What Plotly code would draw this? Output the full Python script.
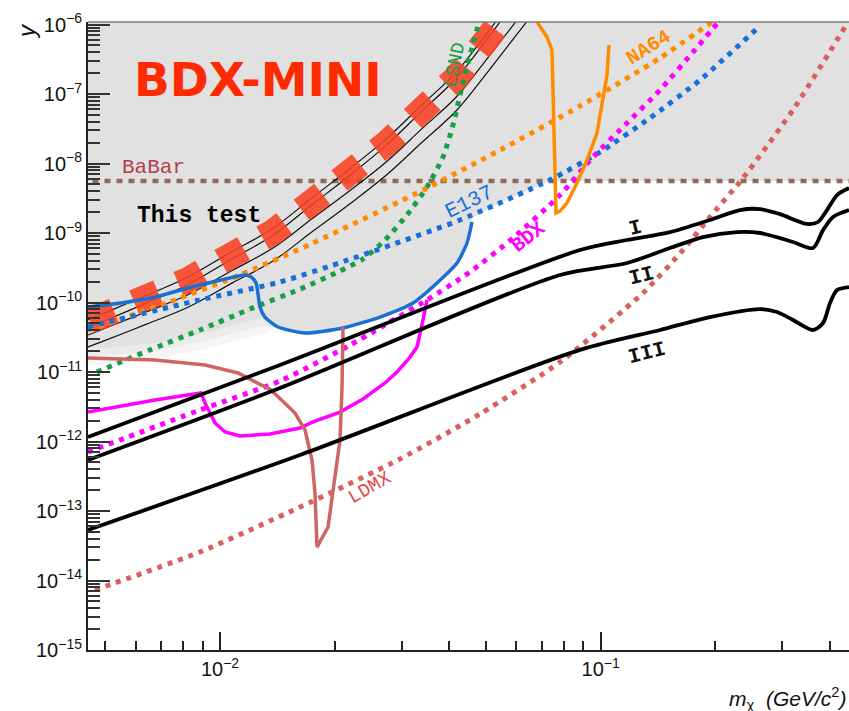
import math
import plotly.graph_objects as go

# ---------------- data (mass in GeV/c^2, y dimensionless) ----------------
# shaded excluded region
excl_m = [0.004, 0.004, 0.005461, 0.006958, 0.008857, 0.010624, 0.012892, 0.014205, 0.016725,
          0.021043, 0.026322, 0.032137, 0.037154, 0.041931, 0.044549, 0.04591, 0.057783,
          0.073576, 0.5, 0.5]
excl_y = [2e-6, 2.08e-11, 2.29e-11, 2.70e-11, 3.52e-11, 4.59e-11, 5.98e-11, 4.44e-11, 3.64e-11,
          4.30e-11, 6.18e-11, 9.84e-11, 1.91e-10, 3.70e-10, 7.18e-10, 1.64e-9, 3.19e-9,
          5.60e-9, 5.60e-9, 2e-6]

# BaBar limit
babar_m = [0.004, 0.5]
babar_y = [5.6e-9, 5.6e-9]

# "This test" curves
test_m = [0.0045, 0.00484, 0.00639, 0.008236, 0.010752, 0.01378, 0.017444, 0.021955, 0.027462,
          0.03393, 0.04168, 0.050279, 0.0544, 0.061376, 0.071418]
test_y1 = [5.60e-11, 6.64e-11, 1.26e-10, 2.33e-10, 5.40e-10, 1.17e-9, 3.21e-9, 8.47e-9, 2.32e-8,
           7.00e-8, 2.05e-7, 7.52e-7, 1.32e-6, 3.15e-6, 1.12e-5]
test_y2 = [4.30e-11, 5.11e-11, 9.77e-11, 1.82e-10, 4.24e-10, 9.27e-10, 2.55e-9, 6.79e-9, 1.87e-8,
           5.68e-8, 1.67e-7, 6.14e-7, 1.09e-6, 2.59e-6, 8.47e-6]
test_y3 = [3.40e-11, 3.99e-11, 7.29e-11, 1.29e-10, 2.88e-10, 6.07e-10, 1.60e-9, 4.09e-9, 1.08e-8,
           3.17e-8, 8.97e-8, 3.21e-7, 5.60e-7, 1.31e-6, 3.83e-6]
test_y4 = [2.29e-11, 2.67e-11, 4.85e-11, 8.55e-11, 1.90e-10, 3.95e-10, 1.04e-9, 2.64e-9, 6.95e-9,
           2.02e-8, 5.69e-8, 2.02e-7, 3.52e-7, 8.20e-7, 2.40e-6]

# BDX-MINI reach
bdxmini_m = [0.004554, 0.00484, 0.00639, 0.008236, 0.010752, 0.01378, 0.017444, 0.021955,
             0.027462, 0.03393, 0.04168, 0.050279, 0.061376]
bdxmini_y = [5.42e-11, 6.18e-11, 1.16e-10, 2.11e-10, 4.82e-10, 1.03e-9, 2.79e-9, 7.29e-9,
             1.97e-8, 5.89e-8, 1.70e-7, 6.18e-7, 2.57e-6]

# LSND
lsnd_m = [0.004751, 0.006547, 0.008857, 0.01199, 0.016223, 0.020664, 0.023747, 0.027127,
          0.030985, 0.03497, 0.038528, 0.040926, 0.042703, 0.044282, 0.04591, 0.047902]
lsnd_y = [1.00e-11, 2.08e-11, 4.02e-11, 8.05e-11, 1.56e-10, 2.84e-10, 4.23e-10, 7.93e-10,
          1.82e-9, 4.59e-9, 1.24e-8, 3.58e-8, 9.68e-8, 2.21e-7, 4.59e-7, 1.09e-6]

# NA64 projection (dotted) and NA64 limit (solid)
na64_m = [0.0045, 0.007389, 0.011287, 0.017549, 0.03497, 0.0544, 0.088232, 0.14315, 0.19604]
na64_y = [4.02e-11, 1.02e-10, 2.49e-10, 7.18e-10, 4.43e-9, 1.56e-8, 6.71e-8, 3.30e-7, 1.09e-6]
na64_lim_m = [0.06802, 0.07226, 0.07448, 0.07493, 0.07586, 0.07632, 0.07818, 0.08157, 0.08665,
              0.09204, 0.09779, 0.10139, 0.10387, 0.10513]
na64_lim_y = [1.09e-6, 6.61e-7, 4.30e-7, 8.20e-8, 8.91e-9, 1.94e-9, 2.07e-9, 2.70e-9, 5.24e-9,
              1.12e-8, 2.75e-8, 8.20e-8, 1.87e-7, 5.07e-7]

# E137 (dotted) and E137 limit (solid)
e137_m = [0.0045, 0.008857, 0.014376, 0.021689, 0.042703, 0.073576, 0.09959, 0.13475, 0.1823,
          0.26213]
e137_y = [4.44e-11, 1.09e-10, 1.97e-10, 4.09e-10, 1.54e-9, 5.79e-9, 1.46e-8, 4.52e-8, 1.59e-7,
          9.51e-7]
e137_lim_m = [0.0045, 0.005495, 0.006751, 0.008236, 0.01006, 0.01163, 0.012067, 0.012437,
              0.012738, 0.013124, 0.014205, 0.016725, 0.021043, 0.026322, 0.032137, 0.037154,
              0.041931, 0.044549, 0.04591]
e137_lim_y = [8.61e-11, 9.84e-11, 1.20e-10, 1.62e-10, 2.11e-10, 2.49e-10, 2.33e-10, 1.91e-10,
              8.61e-11, 6.18e-11, 4.44e-11, 3.64e-11, 4.30e-11, 6.18e-11, 9.84e-11, 1.91e-10,
              3.70e-10, 7.18e-10, 1.44e-9]

# BDX (dotted) and magenta solid bound
bdx_m = [0.0045, 0.008857, 0.014376, 0.021955, 0.03497, 0.045365, 0.058831, 0.07818, 0.095456,
         0.11726, 0.14315, 0.17476, 0.20389]
bdx_y = [7.06e-13, 2.84e-12, 7.43e-12, 2.44e-11, 1.09e-10, 2.75e-10, 8.47e-10, 3.52e-9,
         1.24e-8, 3.83e-8, 1.14e-7, 4.02e-7, 1.09e-6]
magenta_m = [0.0045, 0.006751, 0.008915, 0.009134, 0.009703, 0.010306, 0.011287, 0.013527,
             0.016223, 0.017549, 0.020664, 0.023747, 0.027127, 0.029172, 0.031557, 0.032924,
             0.034134, 0.03497]
magenta_y = [2.65e-12, 3.95e-12, 4.99e-12, 3.58e-12, 1.85e-12, 1.37e-12, 1.20e-12, 1.28e-12,
             1.56e-12, 1.91e-12, 2.65e-12, 4.09e-12, 6.95e-12, 1.00e-11, 1.64e-11, 2.29e-11,
             5.60e-11, 1.09e-10]

# red solid bound
red_m = [0.0045, 0.006751, 0.009134, 0.011152, 0.013614, 0.01574, 0.016725, 0.017444, 0.017762,
         0.01798, 0.019219, 0.019808, 0.020664, 0.020918, 0.021043]
red_y = [1.59e-11, 1.49e-11, 1.26e-11, 9.68e-12, 5.51e-12, 2.57e-12, 1.46e-12, 5.42e-13,
         1.82e-13, 3.03e-14, 5.89e-14, 1.82e-13, 1.05e-12, 6.08e-12, 4.44e-11]

# LDMX projection
ldmx_m = [0.004694, 0.008857, 0.016223, 0.029707, 0.048191, 0.07818, 0.12916, 0.16449, 0.19366,
          0.23647, 0.31992, 0.44361]
ldmx_y = [7.30e-15, 2.57e-14, 1.14e-13, 5.60e-13, 2.49e-12, 1.39e-11, 1.37e-10, 5.69e-10,
          1.70e-9, 6.18e-9, 5.89e-8, 1.02e-6]

# thermal targets I, II, III
line1_m = [0.0045, 0.014376, 0.088232, 0.11726, 0.15206, 0.19366, 0.23222, 0.26213, 0.2958,
           0.34834, 0.37231, 0.39313, 0.41767, 0.449]
line1_y = [1.16e-12, 1.26e-11, 5.69e-10, 7.93e-10, 1.03e-9, 1.54e-9, 2.14e-9, 2.21e-9, 1.87e-9,
           1.35e-9, 1.44e-9, 2.14e-9, 3.52e-9, 4.43e-9]
line2_m = [0.0045, 0.014376, 0.07818, 0.11726, 0.15206, 0.18565, 0.22803, 0.26213, 0.31992,
           0.36119, 0.38373, 0.4077, 0.449]
line2_y = [5.42e-13, 5.89e-12, 2.49e-10, 3.70e-10, 6.08e-10, 8.75e-10, 1.03e-9, 1.00e-9,
           7.43e-10, 6.08e-10, 1.10e-9, 1.70e-9, 2.14e-9]
line3_m = [0.0045, 0.016223, 0.088232, 0.14315, 0.19366, 0.26213, 0.29046, 0.31992, 0.36119,
           0.38373, 0.40035, 0.41767, 0.449]
line3_y = [5.33e-14, 6.40e-13, 2.08e-11, 4.02e-11, 6.18e-11, 8.05e-11, 7.29e-11, 5.60e-11,
           4.02e-11, 5.07e-11, 9.84e-11, 1.51e-10, 1.67e-10]

# axis ticks
y_major = [10.0 ** e for e in range(-15, -5)]
y_labels = ["10<sup>\u2212%d</sup>" % (-e) for e in range(-15, -5)]
y_minor = [k * 10.0 ** e for e in range(-15, -6) for k in range(2, 10)]
x_major = [0.01, 0.1]
x_labels = ["10<sup>\u22122</sup>", "10<sup>\u22121</sup>"]
x_minor = [k * 0.001 for k in range(5, 10)] + [k * 0.01 for k in range(2, 10)] + \
          [k * 0.1 for k in range(2, 5)]

# ---------------- figure ----------------
fig = go.Figure()


def lowered(ms, ys, factor, m_max=0.013):
    """Soft lower edge of the shaded region on the low-mass side."""
    return [y * factor if m < m_max else y for m, y in zip(ms, ys)]


for factor, col in [(0.59, "#f5f5f5"), (0.767, "#ebebeb"), (1.0, "#e1e1e1")]:
    fig.add_trace(go.Scatter(x=excl_m, y=lowered(excl_m, excl_y, factor), mode="lines",
                             fill="toself", fillcolor=col, line=dict(width=0),
                             hoverinfo="skip"))

fig.add_trace(go.Scatter(x=babar_m, y=babar_y, mode="lines",
                         line=dict(color="#8f6b5c", width=4.5, dash="6px,6px")))

for ty in (test_y1, test_y2, test_y3, test_y4):
    fig.add_trace(go.Scatter(x=test_m, y=ty, mode="lines",
                             line=dict(color="#111111", width=1.2, shape="spline")))

fig.add_trace(go.Scatter(x=bdxmini_m, y=bdxmini_y, mode="lines", opacity=0.88,
                         line=dict(color="#fa4224", width=26, dash="26px,22px")))

dotted = [
    (lsnd_m, lsnd_y, "#17a046"),
    (na64_m, na64_y, "#ff8c00"),
    (e137_m, e137_y, "#1670d8"),
    (bdx_m, bdx_y, "#ff00ff"),
    (ldmx_m, ldmx_y, "#d9605f"),
]
for xm, yv, col in dotted:
    fig.add_trace(go.Scatter(x=xm, y=yv, mode="lines",
                             line=dict(color=col, width=5, dash="5px,6px",
                                       shape="spline", smoothing=0.6)))

solid = [
    (e137_lim_m, e137_lim_y, "#1a6fd0", "spline"),
    (na64_lim_m, na64_lim_y, "#ff8c00", "linear"),
    (magenta_m, magenta_y, "#ff00ff", "linear"),
    (red_m, red_y, "#cf6464", "linear"),
]
for xm, yv, col, shp in solid:
    fig.add_trace(go.Scatter(x=xm, y=yv, mode="lines",
                             line=dict(color=col, width=3.5, shape=shp, smoothing=0.6)))

for xm, yv in ((line1_m, line1_y), (line2_m, line2_y), (line3_m, line3_y)):
    fig.add_trace(go.Scatter(x=xm, y=yv, mode="lines",
                             line=dict(color="#000000", width=3.8, shape="spline",
                                       smoothing=0.8)))

W, H = 849, 711
L, R, T, B = 88, 0, 22, 61


def px(xp, yp):
    """Pixel position -> paper coordinates."""
    return (xp - L) / (W - L - R), (H - B - yp) / (H - T - B)


mono = "Liberation Mono, Courier New, monospace"
labels = [
    ("<b>BDX-MINI</b>", 258, 80, "#ff2a00", "DejaVu Sans, Verdana, sans-serif", 47, 0),
    ("<b>This test</b>", 199, 216, "#000000", mono, 23, 0),
    ("BaBar", 153, 167, "#b4404c", mono, 21, 0),
    ("<b>I</b>", 635, 228, "#111111", mono, 21, -14),
    ("<b>II</b>", 641, 276, "#111111", mono, 21, -14),
    ("<b>III</b>", 647, 353, "#111111", mono, 21, -14),
    ("<b>NA64</b>", 649, 48, "#ff8c00", mono, 20, -32),
    ("E137", 469, 202, "#1670d8", mono, 21, -26),
    ("<b>BDX</b>", 528, 237, "#ff00ff", mono, 20, -38),
    ("LSND", 455, 65, "#17a046", mono, 19, -78),
    ("LDMX", 370, 488, "#e04848", mono, 19, -30),
]
annotations = []
for text, xp, yp, col, fam, size, ang in labels:
    xa, ya = px(xp, yp)
    annotations.append(dict(text=text, x=xa, y=ya, xref="paper", yref="paper",
                            showarrow=False, textangle=ang, xanchor="center",
                            yanchor="middle", font=dict(family=fam, size=size, color=col)))

xa, ya = px(848, 698)
annotations.append(dict(text="<i>m</i><sub>\u03c7</sub>  <i>(GeV/c</i><sup>2</sup><i>)</i>",
                        x=xa, y=ya, xref="paper", yref="paper", showarrow=False,
                        xanchor="right", yanchor="middle",
                        font=dict(family="Liberation Sans, Arial, sans-serif", size=21,
                                  color="#111111")))
xa, ya = px(26, 31)
annotations.append(dict(text="<i>y</i>", x=xa, y=ya, xref="paper", yref="paper",
                        showarrow=False, textangle=-90, xanchor="center", yanchor="middle",
                        font=dict(family="Liberation Sans, Arial, sans-serif", size=24,
                                  color="#111111")))

tickfont = dict(family="Liberation Sans, Arial, sans-serif", size=20, color="#111111")
fig.update_layout(
    width=W, height=H,
    margin=dict(l=L, r=R, t=T, b=B),
    paper_bgcolor="white", plot_bgcolor="white",
    showlegend=False,
    annotations=annotations,
    shapes=[dict(type="line", xref="paper", yref="paper", x0=0, x1=1, y0=1, y1=1,
                 line=dict(color="#7a7a7a", width=1.5))],
    xaxis=dict(type="log", range=[math.log10(0.0045), math.log10(0.449)],
               tickmode="array", tickvals=x_major, ticktext=x_labels,
               ticks="inside", ticklen=18, tickwidth=1.5, tickcolor="#222222",
               showline=True, linecolor="#222222", linewidth=2,
               showgrid=False, zeroline=False, tickfont=tickfont,
               minor=dict(tickmode="array", tickvals=x_minor, ticks="inside", ticklen=9,
                          tickwidth=1.5, tickcolor="#222222", showgrid=False)),
    yaxis=dict(type="log", range=[-15, -5.964],
               tickmode="array", tickvals=y_major, ticktext=y_labels,
               ticks="inside", ticklen=22, tickwidth=1.5, tickcolor="#333333",
               showline=True, linecolor="#222222", linewidth=2,
               showgrid=False, zeroline=False, tickfont=tickfont,
               minor=dict(tickmode="array", tickvals=y_minor, ticks="inside", ticklen=12,
                          tickwidth=1.5, tickcolor="#333333", showgrid=False)),
)

fig.write_html("out.html")
